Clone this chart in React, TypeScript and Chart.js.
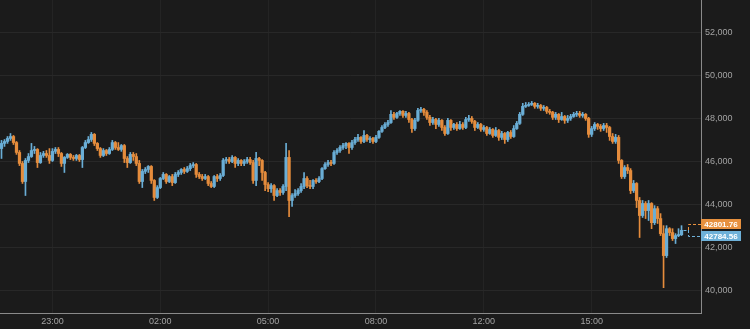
import React, { useEffect, useRef } from 'react';
import { Chart, registerables } from 'chart.js';

Chart.register(...registerables);

// ---- data (5-minute candles) ----
const opens = [
  46600, 46840, 46930, 47070, 47160, 46880, 46420, 45910, 45070, 46050,
  46230, 46510, 46560, 45950, 46280, 46370, 46280, 46050, 46470, 46560,
  46370, 45910, 46190, 46330, 46190, 46140, 46280, 46090, 46650, 46880,
  47020, 47260, 46840, 46600, 46280, 46510, 46370, 46560, 46880, 46650,
  46560, 46740, 46140, 45950, 46330, 46230, 45910, 45070, 45540, 45630,
  45770, 45120, 44330, 44790, 45210, 45400, 45070, 45300, 45020, 45400,
  45490, 45630, 45540, 45670, 45810, 45860, 45400, 45300, 45210, 45300,
  44980, 44840, 45300, 45210, 45350, 46050, 46090, 46000, 46190, 45910,
  46050, 45910, 46000, 46090, 45950, 45120, 46140, 46050, 45490, 44930,
  44740, 44880, 44420, 44650, 44560, 44840, 46190, 44190, 44420, 44510,
  44650, 44840, 45210, 44880, 44840, 45120, 45070, 45210, 45670, 45860,
  45950, 45910, 46420, 46510, 46650, 46740, 46840, 46650, 46880, 47020,
  47120, 46930, 47210, 47020, 47070, 46930, 47120, 47400, 47580, 47720,
  47810, 48190, 48050, 48230, 48330, 48140, 48230, 47950, 47530, 47910,
  48370, 48420, 48280, 48050, 47810, 47950, 47720, 47910, 47580, 47300,
  47910, 47580, 47720, 47530, 47720, 47580, 47950, 48000, 47860, 47580,
  47720, 47490, 47580, 47300, 47490, 47210, 47440, 47120, 47300, 47020,
  47350, 47160, 47530, 47770, 48190, 48560, 48600, 48650, 48700, 48560,
  48600, 48470, 48510, 48330, 48280, 48050, 48190, 47950, 48090, 47910,
  48000, 48090, 48190, 48230, 48140, 48190, 48000, 47260, 47530, 47720,
  47630, 47530, 47670, 47580, 47160, 46930, 47120, 46050, 45300, 45720,
  45580, 44650, 44980, 44190, 43490, 44050, 43720, 44050, 43160, 43810,
  43350, 42650, 41630, 42880, 42700, 42420, 42560, 42600,
];

const highs = [
  46980, 47020, 47160, 47300, 47210, 46930, 46510, 46000, 46140, 46370,
  46840, 46700, 46600, 46420, 46470, 46510, 46600, 46600, 46650, 46650,
  46420, 46230, 46370, 46370, 46280, 46330, 46330, 46700, 46980, 47160,
  47350, 47300, 46880, 46650, 46600, 46560, 46650, 46980, 46930, 46880,
  46790, 46790, 46230, 46420, 46420, 46370, 46050, 45630, 45720, 45810,
  45810, 45160, 44880, 45260, 45490, 45440, 45350, 45400, 45490, 45580,
  45670, 45720, 45770, 45910, 45950, 45910, 45490, 45400, 45400, 45350,
  45070, 45350, 45400, 45440, 46140, 46190, 46190, 46280, 46230, 46140,
  46090, 46090, 46190, 46190, 46050, 46420, 46190, 46090, 45540, 45020,
  44980, 44930, 44740, 44740, 44930, 46840, 46510, 44510, 44700, 44740,
  44980, 45490, 45300, 45120, 45160, 45210, 45300, 45720, 45950, 46050,
  46050, 46510, 46600, 46740, 46840, 46880, 46880, 46980, 47120, 47260,
  47160, 47440, 47260, 47160, 47120, 47210, 47440, 47670, 47810, 47910,
  48370, 48280, 48280, 48370, 48370, 48330, 48280, 48000, 48000, 48470,
  48510, 48470, 48370, 48140, 48050, 48000, 48000, 47950, 47670, 48000,
  47950, 47770, 47810, 47860, 47810, 48050, 48140, 48090, 47910, 47810,
  47770, 47670, 47630, 47580, 47530, 47580, 47490, 47400, 47350, 47400,
  47440, 47670, 47860, 48280, 48700, 48740, 48740, 48790, 48740, 48700,
  48650, 48600, 48560, 48420, 48330, 48280, 48230, 48280, 48140, 48140,
  48190, 48280, 48330, 48330, 48280, 48230, 48050, 47630, 47810, 47770,
  47720, 47770, 47770, 47630, 47300, 47260, 47210, 46090, 45810, 45860,
  45670, 45120, 45020, 44330, 44190, 44140, 44190, 44090, 43950, 43910,
  43580, 43020, 43020, 42930, 42880, 42650, 42880, 43020,
];

const lows = [
  46140, 46700, 46840, 46980, 46790, 46330, 45810, 44980, 44420, 45950,
  46190, 46370, 45720, 45910, 46190, 46190, 45910, 46000, 46370, 46230,
  45770, 45490, 46140, 46090, 46050, 46050, 46000, 45720, 46600, 46840,
  46930, 46740, 46510, 46190, 46230, 46280, 46330, 46510, 46560, 46510,
  46470, 45950, 45720, 45910, 46050, 45810, 44980, 44790, 45440, 45490,
  44980, 44190, 44280, 44740, 45160, 44980, 45020, 44880, 44980, 45300,
  45400, 45440, 45490, 45580, 45720, 45260, 45210, 45120, 45160, 44880,
  44790, 44790, 45070, 45120, 45300, 45910, 45910, 45950, 45720, 45810,
  45810, 45810, 45910, 45860, 44980, 44880, 45810, 45120, 44650, 44600,
  44560, 44190, 44370, 44420, 44470, 44650, 43440, 43910, 44330, 44420,
  44560, 44740, 44790, 44740, 44740, 44980, 45020, 45160, 45630, 45770,
  45810, 45860, 46330, 46420, 46560, 46600, 46370, 46560, 46790, 46930,
  46840, 46880, 46930, 46880, 46840, 46880, 47070, 47350, 47530, 47630,
  47770, 47950, 48000, 48140, 48050, 48050, 47810, 47350, 47440, 47860,
  48280, 48140, 47950, 47670, 47720, 47530, 47630, 47440, 47210, 47260,
  47440, 47490, 47440, 47490, 47490, 47530, 47860, 47770, 47440, 47530,
  47400, 47400, 47210, 47260, 47120, 47160, 46980, 47020, 46840, 46930,
  47070, 47120, 47490, 47720, 48140, 48510, 48560, 48600, 48470, 48470,
  48370, 48370, 48230, 48190, 47950, 47950, 47810, 47910, 47770, 47810,
  47910, 48050, 48090, 48050, 48050, 47910, 47120, 47160, 47440, 47490,
  47400, 47440, 47350, 46980, 46840, 46840, 45910, 45210, 45210, 45440,
  44510, 44560, 43860, 42470, 43400, 43350, 43260, 42880, 43070, 43120,
  42560, 40140, 41540, 42560, 42330, 42190, 42510, 42560,
];

const closes = [
  46840, 46930, 47070, 47160, 46880, 46420, 45910, 45070, 46050, 46230,
  46510, 46560, 45950, 46280, 46370, 46280, 46050, 46470, 46560, 46370,
  45910, 46190, 46330, 46190, 46140, 46280, 46090, 46650, 46880, 47020,
  47260, 46840, 46600, 46280, 46510, 46370, 46560, 46880, 46650, 46560,
  46740, 46140, 45950, 46330, 46230, 45910, 45070, 45540, 45630, 45770,
  45120, 44330, 44790, 45210, 45400, 45070, 45300, 45020, 45400, 45490,
  45630, 45540, 45670, 45810, 45860, 45400, 45300, 45210, 45300, 44980,
  44840, 45300, 45210, 45350, 46050, 46090, 46000, 46190, 45910, 46050,
  45910, 46000, 46090, 45950, 45120, 46140, 46050, 45490, 44930, 44740,
  44880, 44420, 44650, 44560, 44840, 46190, 44190, 44420, 44510, 44650,
  44840, 45210, 44880, 44840, 45120, 45070, 45210, 45670, 45860, 45950,
  45910, 46420, 46510, 46650, 46740, 46840, 46650, 46880, 47020, 47120,
  46930, 47210, 47020, 47070, 46930, 47120, 47400, 47580, 47720, 47810,
  48190, 48050, 48230, 48330, 48140, 48230, 47950, 47530, 47910, 48370,
  48420, 48280, 48050, 47810, 47950, 47720, 47910, 47580, 47300, 47910,
  47580, 47720, 47530, 47720, 47580, 47950, 48000, 47860, 47580, 47720,
  47490, 47580, 47300, 47490, 47210, 47440, 47120, 47300, 47020, 47350,
  47160, 47530, 47770, 48190, 48560, 48600, 48650, 48700, 48560, 48600,
  48470, 48510, 48330, 48280, 48050, 48190, 47950, 48090, 47910, 48000,
  48090, 48190, 48230, 48140, 48190, 48000, 47260, 47530, 47720, 47630,
  47530, 47670, 47580, 47160, 46930, 47120, 46050, 45300, 45720, 45580,
  44650, 44980, 44190, 43490, 44050, 43720, 44050, 43160, 43810, 43350,
  42650, 41630, 42880, 42700, 42420, 42560, 42600, 42801.76,
];

const slotCount = 234;
const tickIndex = [17, 53, 89, 125, 161, 197];
const tickText = ['23:00', '02:00', '05:00', '08:00', '12:00', '15:00'];
const yTickValues = [40000, 42000, 44000, 46000, 48000, 50000, 52000];
const yMin = 38964;
const yMax = 53500;
const askPrice = 42801.76;
const bidPrice = 42784.56;

const BG = '#1b1b1b';
const UP = '#6aaed6';
const DOWN = '#e58c3c';
const ASK_BOX = '#e8913f';
const BID_BOX = '#6eb1d9';
const FONT = "'Liberation Sans', Arial, Helvetica, sans-serif";

const bgPlugin = {
  id: 'bg',
  beforeDraw(chart: any) {
    const { ctx, width, height } = chart;
    ctx.save();
    ctx.fillStyle = BG;
    ctx.fillRect(0, 0, width, height);
    ctx.restore();
  },
};

const priceTagPlugin = {
  id: 'priceTags',
  afterDraw(chart: any) {
    const { ctx, chartArea, scales } = chart;
    const y = scales.y;
    const x = scales.x;
    const yc = y.getPixelForValue(askPrice);
    const right = chartArea.right;
    const lastX = x.getPixelForValue(closes.length - 1) + 2;
    const bx = right - 13;
    ctx.save();
    ctx.lineWidth = 1;
    ctx.setLineDash([3, 2]);
    ctx.strokeStyle = BID_BOX;
    ctx.beginPath();
    ctx.moveTo(lastX, Math.round(yc) + 0.5);
    ctx.lineTo(bx, Math.round(yc) + 0.5);
    ctx.stroke();
    ctx.strokeStyle = ASK_BOX;
    ctx.beginPath();
    ctx.moveTo(bx + 0.5, Math.round(yc));
    ctx.lineTo(bx + 0.5, Math.round(yc - 6) + 0.5);
    ctx.lineTo(right, Math.round(yc - 6) + 0.5);
    ctx.stroke();
    ctx.strokeStyle = BID_BOX;
    ctx.beginPath();
    ctx.moveTo(bx + 0.5, Math.round(yc));
    ctx.lineTo(bx + 0.5, Math.round(yc + 6) + 0.5);
    ctx.lineTo(right, Math.round(yc + 6) + 0.5);
    ctx.stroke();
    ctx.setLineDash([]);
    const bw = 40;
    const bh = 10;
    const askTop = Math.round(yc - 11);
    const bidTop = Math.round(yc + 1);
    ctx.fillStyle = ASK_BOX;
    ctx.fillRect(right, askTop, bw, bh);
    ctx.fillStyle = BID_BOX;
    ctx.fillRect(right, bidTop, bw, bh);
    ctx.fillStyle = '#ffffff';
    ctx.font = `bold 8px ${FONT}`;
    ctx.textAlign = 'center';
    ctx.textBaseline = 'middle';
    ctx.fillText(askPrice.toFixed(2), right + bw / 2, askTop + bh / 2 + 0.5);
    ctx.fillText(bidPrice.toFixed(2), right + bw / 2, bidTop + bh / 2 + 0.5);
    ctx.restore();
  },
};

export default function App() {
  const ref = useRef<HTMLCanvasElement>(null);

  useEffect(() => {
    document.body.style.margin = '0';
    document.body.style.background = BG;
    const labels = Array.from({ length: slotCount }, (_, i) => String(i));
    const colors = closes.map((c, i) => (c >= opens[i] ? UP : DOWN));
    const wicks = lows.map((l, i) => [l, highs[i]]);
    const bodies = opens.map((o, i) => [o, closes[i]]);

    const chart = new Chart(ref.current as HTMLCanvasElement, {
      type: 'bar',
      data: {
        labels,
        datasets: [
          {
            label: 'wick',
            data: wicks as any,
            backgroundColor: colors,
            borderWidth: 0,
            barThickness: 1,
            grouped: false,
            order: 2,
          } as any,
          {
            label: 'body',
            data: bodies as any,
            backgroundColor: colors,
            borderWidth: 0,
            barThickness: 2.6,
            minBarLength: 1,
            grouped: false,
            order: 1,
          } as any,
        ],
      },
      options: {
        animation: false,
        responsive: false,
        maintainAspectRatio: false,
        layout: { padding: 0, autoPadding: false } as any,
        plugins: {
          legend: { display: false },
          tooltip: { enabled: false },
        },
        events: [],
        scales: {
          x: {
            type: 'category',
            offset: true,
            grid: { display: true, offset: false, color: '#242424', drawTicks: false },
            border: { display: true, color: '#8a8a8a', width: 1 },
            ticks: {
              autoSkip: false,
              maxRotation: 0,
              minRotation: 0,
              color: '#a3a3a3',
              font: { size: 9, family: FONT },
              padding: 3,
              callback: (v: any) => {
                const k = tickIndex.indexOf(Number(v));
                return k >= 0 ? tickText[k] : '';
              },
            },
            afterBuildTicks: (s: any) => {
              s.ticks = tickIndex.map((v) => ({ value: v }));
            },
            afterFit: (s: any) => {
              s.height = 16;
              s.paddingLeft = 0;
              s.paddingRight = 0;
              s.paddingTop = 0;
              s.paddingBottom = 0;
            },
          } as any,
          y: {
            type: 'linear',
            position: 'right',
            min: yMin,
            max: yMax,
            grid: { color: '#282828', drawTicks: false },
            border: { display: true, color: '#8a8a8a', width: 1 },
            ticks: {
              color: '#a3a3a3',
              font: { size: 9, family: FONT },
              padding: 4,
              callback: (v: any) => Number(v).toLocaleString('en-US'),
            },
            afterBuildTicks: (s: any) => {
              s.ticks = yTickValues.map((v) => ({ value: v }));
            },
            afterFit: (s: any) => {
              s.width = 49;
              s.paddingTop = 0;
              s.paddingBottom = 0;
              s.paddingLeft = 0;
              s.paddingRight = 0;
            },
          } as any,
        },
      },
      plugins: [bgPlugin, priceTagPlugin],
    });
    return () => chart.destroy();
  }, []);

  return (
    <div style={{ width: 750, height: 329 }}>
      <canvas ref={ref} width={750} height={329} style={{ display: 'block' }} />
    </div>
  );
}
